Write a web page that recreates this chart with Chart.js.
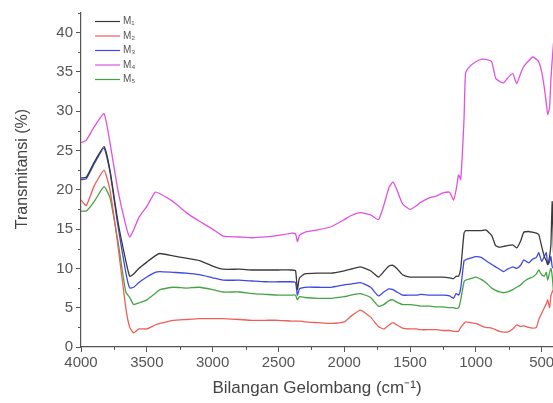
<!DOCTYPE html>
<html>
<head>
<meta charset="utf-8">
<script src="https://cdn.jsdelivr.net/npm/chart.js@4.4.0/dist/chart.umd.min.js"></script>
<style>
  html, body { margin: 0; padding: 0; background: #ffffff; }
  #wrap { width: 553px; height: 403px; position: relative; }
</style>
</head>
<body>
<div id="wrap"><canvas id="c"></canvas></div>
<script>
// Wavenumbers (cm^-1)
const wavenumbers = [4000, 3960, 3900, 3825, 3780, 3720, 3660, 3630, 3600, 3560, 3500, 3437, 3400, 3300, 3200, 3100, 3000, 2920, 2800, 2700, 2600, 2500, 2400, 2370, 2356, 2340, 2300, 2200, 2100, 2000, 1950, 1877, 1800, 1740, 1700, 1660, 1630, 1600, 1557, 1500, 1450, 1420, 1350, 1300, 1250, 1200, 1170, 1150, 1131, 1115, 1090, 1078, 1040, 1000, 960, 925, 880, 850, 820, 790, 760, 720, 690, 660, 636, 600, 568, 540, 522, 500, 480, 465, 454, 440, 430, 420, 410];

const seriesLabels = ["M\u2081", "M\u2082", "M\u2083", "M\u2084", "M\u2085"];

const m1 = [21.5, 21.6, 23.5, 25.5, 22.5, 16.0, 11.0, 9.0, 9.3, 10.0, 10.8, 11.6, 11.9, 11.6, 11.3, 11.0, 10.3, 9.9, 9.9, 9.8, 9.8, 9.8, 9.8, 9.7, 7.3, 8.8, 9.3, 9.4, 9.4, 9.7, 9.9, 10.2, 9.7, 8.9, 9.6, 10.3, 10.4, 10.0, 9.2, 8.9, 8.9, 8.9, 8.9, 8.9, 8.9, 8.8, 8.7, 9.0, 9.0, 10.0, 14.5, 14.8, 14.8, 14.8, 14.8, 14.9, 14.2, 12.9, 12.7, 12.8, 12.9, 13.0, 12.6, 13.5, 14.6, 14.7, 14.6, 14.5, 14.3, 12.8, 11.5, 11.0, 10.5, 11.5, 13.0, 18.5, 12.0];

const m2 = [18.7, 18.0, 20.5, 22.5, 20.0, 13.0, 5.0, 2.5, 1.8, 2.3, 2.3, 2.8, 3.0, 3.4, 3.5, 3.6, 3.6, 3.6, 3.5, 3.4, 3.4, 3.4, 3.3, 3.3, 3.3, 3.3, 3.2, 3.1, 3.0, 3.2, 3.9, 4.7, 3.8, 2.6, 2.3, 2.8, 3.1, 2.8, 2.4, 2.3, 2.3, 2.2, 2.2, 2.2, 2.1, 2.1, 2.0, 2.0, 2.0, 2.5, 3.0, 3.2, 3.1, 3.0, 2.7, 2.5, 2.4, 2.2, 2.0, 1.9, 1.9, 2.3, 2.8, 2.6, 2.7, 2.5, 2.4, 2.5, 3.5, 4.3, 5.0, 5.5, 6.0, 5.0, 6.5, 7.0, 7.3];

const m3 = [21.3, 21.4, 23.3, 25.3, 22.3, 15.5, 9.5, 7.5, 7.6, 8.2, 8.9, 9.5, 9.6, 9.5, 9.4, 9.2, 8.8, 8.5, 8.5, 8.4, 8.3, 8.3, 8.3, 8.2, 6.6, 7.4, 7.6, 7.6, 7.6, 7.9, 8.0, 8.2, 7.6, 6.5, 7.0, 7.4, 7.3, 7.0, 6.6, 6.6, 6.6, 6.7, 6.6, 6.6, 6.6, 6.5, 6.2, 6.8, 6.6, 7.5, 11.0, 11.1, 11.3, 11.5, 11.4, 11.0, 10.5, 10.2, 9.9, 9.6, 9.9, 10.2, 10.0, 10.4, 11.1, 10.7, 11.2, 11.4, 12.0, 10.9, 11.5, 12.0, 10.5, 10.8, 11.5, 10.2, 10.0];

const m4 = [26.0, 26.3, 28.0, 29.7, 26.0, 20.0, 15.5, 14.0, 14.9, 16.5, 17.9, 19.7, 19.5, 18.5, 17.1, 16.0, 15.0, 14.1, 14.0, 13.9, 14.0, 14.2, 14.5, 14.4, 13.4, 14.2, 14.6, 14.9, 15.3, 16.2, 16.7, 17.1, 16.8, 16.2, 18.0, 20.3, 21.0, 20.0, 18.2, 17.5, 18.0, 18.4, 19.0, 19.2, 19.6, 19.7, 18.7, 20.0, 21.9, 21.3, 29.0, 34.9, 35.8, 36.3, 36.6, 36.6, 36.3, 34.2, 33.8, 33.6, 34.2, 34.8, 33.5, 34.8, 35.7, 36.4, 36.9, 36.6, 36.3, 35.0, 33.0, 31.0, 29.6, 30.5, 34.0, 36.5, 38.7];

const m5 = [17.3, 17.3, 18.5, 20.4, 19.0, 13.5, 7.0, 6.3, 5.4, 5.6, 6.0, 6.8, 7.3, 7.6, 7.5, 7.6, 7.3, 7.0, 7.0, 6.8, 6.7, 6.6, 6.6, 6.6, 6.0, 6.4, 6.3, 6.2, 6.2, 6.4, 6.6, 6.8, 6.3, 5.2, 5.4, 5.9, 6.0, 5.7, 5.4, 5.4, 5.3, 5.2, 5.2, 5.1, 5.1, 5.0, 5.0, 4.9, 5.0, 6.0, 8.3, 8.5, 8.7, 8.9, 8.6, 8.2, 7.5, 7.2, 7.0, 6.9, 7.0, 7.3, 7.6, 7.9, 8.3, 8.7, 8.9, 9.3, 9.8, 9.2, 9.0, 9.5, 8.5, 9.5, 10.0, 9.0, 7.0];

// Tick values
const xMajorTicks = [4000, 3500, 3000, 2500, 2000, 1500, 1000, 500];
const xMinorTicks = [3750, 3250, 2750, 2250, 1750, 1250, 750];
const yMajorTicks = [0, 5, 10, 15, 20, 25, 30, 35, 40];
const yMinorTicks = [2.5, 7.5, 12.5, 17.5, 22.5, 27.5, 32.5, 37.5, 42.5];

const seriesValues = [m1, m2, m3, m4, m5];
const seriesColors = ["#3a3a3a", "#ef5f58", "#4048e0", "#e052e0", "#45a345"];

const xTitle = "Bilangan Gelombang (cm\u207B\u00B9)";
const yTitle = "Transmitansi (%)";

const FONT = "'Liberation Sans', Arial, sans-serif";
const AXIS_COLOR = '#555';

const datasets = seriesValues.map((vals, i) => ({
  label: seriesLabels[i],
  data: wavenumbers.map((w, j) => ({ x: w, y: vals[j] })),
  borderColor: seriesColors[i],
  borderWidth: 1.3,
  pointRadius: 0,
  tension: 0.15,
  fill: false
}));

const legendPlugin = {
  id: 'insideLegend',
  afterDraw(chart) {
    const ctx = chart.ctx;
    ctx.save();
    const x0 = 95, x1 = 120, tx = 123, y0 = 21.5, dy = 14.5;
    chart.data.datasets.forEach((ds, i) => {
      const y = y0 + i * dy;
      ctx.strokeStyle = ds.borderColor;
      ctx.lineWidth = 1.2;
      ctx.beginPath();
      ctx.moveTo(x0, y);
      ctx.lineTo(x1, y);
      ctx.stroke();
      ctx.fillStyle = '#555';
      ctx.textBaseline = 'middle';
      ctx.font = "10px " + FONT;
      ctx.fillText(ds.label, tx, y);
    });
    ctx.restore();
  }
};

// Minor ticks and y-axis title placed via the library's scales
const axisExtras = {
  id: 'axisExtras',
  afterDraw(chart) {
    const ctx = chart.ctx;
    const xs = chart.scales.x, ys = chart.scales.y;
    ctx.save();
    ctx.strokeStyle = AXIS_COLOR;
    ctx.lineWidth = 1;
    ctx.beginPath();
    xMinorTicks.forEach(v => {
      const px = Math.round(xs.getPixelForValue(v)) + 0.5;
      ctx.moveTo(px, xs.top);
      ctx.lineTo(px, xs.top + 3);
    });
    yMinorTicks.forEach(v => {
      const py = Math.round(ys.getPixelForValue(v)) + 0.5;
      ctx.moveTo(ys.right, py);
      ctx.lineTo(ys.right - 3, py);
    });
    ctx.stroke();
    // y title
    ctx.translate(23, (ys.top + ys.bottom) / 2 - 11);
    ctx.rotate(-Math.PI / 2);
    ctx.fillStyle = '#444';
    ctx.font = "16px " + FONT;
    ctx.textAlign = 'center';
    ctx.textBaseline = 'middle';
    ctx.fillText(yTitle, 0, 0);
    ctx.restore();
  }
};

new Chart(document.getElementById('c'), {
  type: 'line',
  data: { datasets },
  options: {
    responsive: true,
    maintainAspectRatio: false,
    animation: false,
    layout: { padding: { top: 13, right: 0, left: 0, bottom: 0 } },
    plugins: {
      legend: { display: false },
      tooltip: { enabled: false }
    },
    scales: {
      x: {
        type: 'linear',
        reverse: true,
        min: 414,
        max: 4000,
        border: { display: true, color: AXIS_COLOR, width: 1.2 },
        grid: { display: true, drawOnChartArea: false, drawTicks: true, tickLength: 5, tickColor: AXIS_COLOR, tickWidth: 1 },
        afterBuildTicks: (s) => { s.ticks = xMajorTicks.map(v => ({ value: v })); },
        ticks: {
          autoSkip: false,
          maxRotation: 0,
          padding: 2,
          color: '#555',
          font: { family: FONT, size: 15 },
          callback: (v) => String(v)
        },
        title: { display: true, text: xTitle, color: '#444', font: { family: FONT, size: 17 }, padding: { top: 2, bottom: 4 } },
        afterFit: (s) => { s.height = 56; s.paddingLeft = 0; s.paddingRight = 0; }
      },
      y: {
        min: 0,
        max: 42.5,
        border: { display: true, color: AXIS_COLOR, width: 1.2 },
        grid: { display: true, drawOnChartArea: false, drawTicks: true, tickLength: 5, tickColor: AXIS_COLOR, tickWidth: 1 },
        afterBuildTicks: (s) => { s.ticks = yMajorTicks.map(v => ({ value: v })); },
        ticks: {
          autoSkip: false,
          padding: 3,
          color: '#555',
          font: { family: FONT, size: 15 },
          callback: (v) => String(v)
        },
        title: { display: false },
        afterFit: (s) => { s.width = 81; s.paddingTop = 0; s.paddingBottom = 0; }
      }
    }
  },
  plugins: [legendPlugin, axisExtras]
});
</script>
</body>
</html>
